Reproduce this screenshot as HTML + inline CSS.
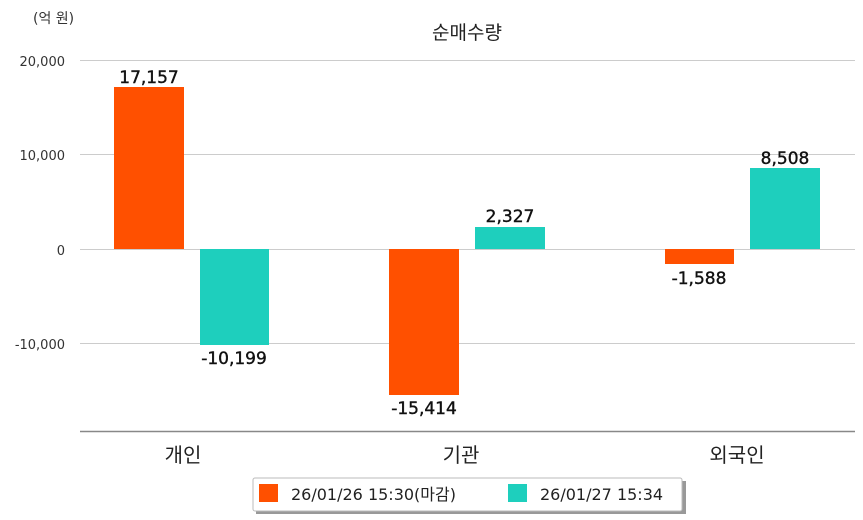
<!DOCTYPE html>
<html><head><meta charset="utf-8"><style>
body{margin:0;background:#fff;}
svg{display:block;font-family:"DejaVu Sans","Noto Sans CJK KR","NanumGothic",sans-serif;}
</style></head><body>
<svg width="863" height="520" xmlns="http://www.w3.org/2000/svg">
<rect width="863" height="520" fill="#fff"/>
<text x="33" y="23" font-size="14" fill="#333">(억 원)</text>
<text x="467" y="39" font-size="19" fill="#222" text-anchor="middle">순매수량</text>
<g stroke="#ccc" stroke-width="1">
<line x1="80" y1="60.5" x2="855" y2="60.5"/>
<line x1="80" y1="154.5" x2="855" y2="154.5"/>
<line x1="80" y1="249.5" x2="855" y2="249.5"/>
<line x1="80" y1="343.5" x2="855" y2="343.5"/>
</g>
<line x1="80" y1="431.5" x2="855" y2="431.5" stroke="#888" stroke-width="1.5"/>
<g font-size="13" fill="#333" text-anchor="end">
<text x="65" y="66">20,000</text>
<text x="65" y="160">10,000</text>
<text x="65" y="255">0</text>
<text x="65" y="349">-10,000</text>
</g>
<rect x="114" y="87" width="70" height="162" fill="#ff5000"/>
<rect x="200" y="249" width="69" height="96" fill="#1ecfbd"/>
<rect x="389" y="249" width="70" height="146" fill="#ff5000"/>
<rect x="475" y="227" width="70" height="22" fill="#1ecfbd"/>
<rect x="665" y="249" width="69" height="15" fill="#ff5000"/>
<rect x="750" y="168" width="70" height="81" fill="#1ecfbd"/>
<g font-size="17" fill="#111" stroke="#111" stroke-width="0.4" text-anchor="middle">
<text x="149" y="83">17,157</text>
<text x="234" y="364">-10,199</text>
<text x="424" y="414">-15,414</text>
<text x="510" y="222">2,327</text>
<text x="699" y="284">-1,588</text>
<text x="785" y="164">8,508</text>
</g>
<g font-size="20" fill="#222" text-anchor="middle">
<text x="183" y="462">개인</text>
<text x="461" y="462">기관</text>
<text x="737" y="462">외국인</text>
</g>
<rect x="256" y="481" width="430" height="33" fill="#999"/>
<rect x="253" y="478" width="429" height="33" fill="#fff" stroke="#bbb" rx="2"/>
<rect x="259" y="484" width="19" height="18" fill="#ff5000"/>
<rect x="508" y="484" width="19" height="18" fill="#1ecfbd"/>
<g font-size="16" fill="#222">
<text x="291" y="500">26/01/26 15:30(마감)</text>
<text x="540" y="500">26/01/27 15:34</text>
</g>
</svg>
</body></html>
